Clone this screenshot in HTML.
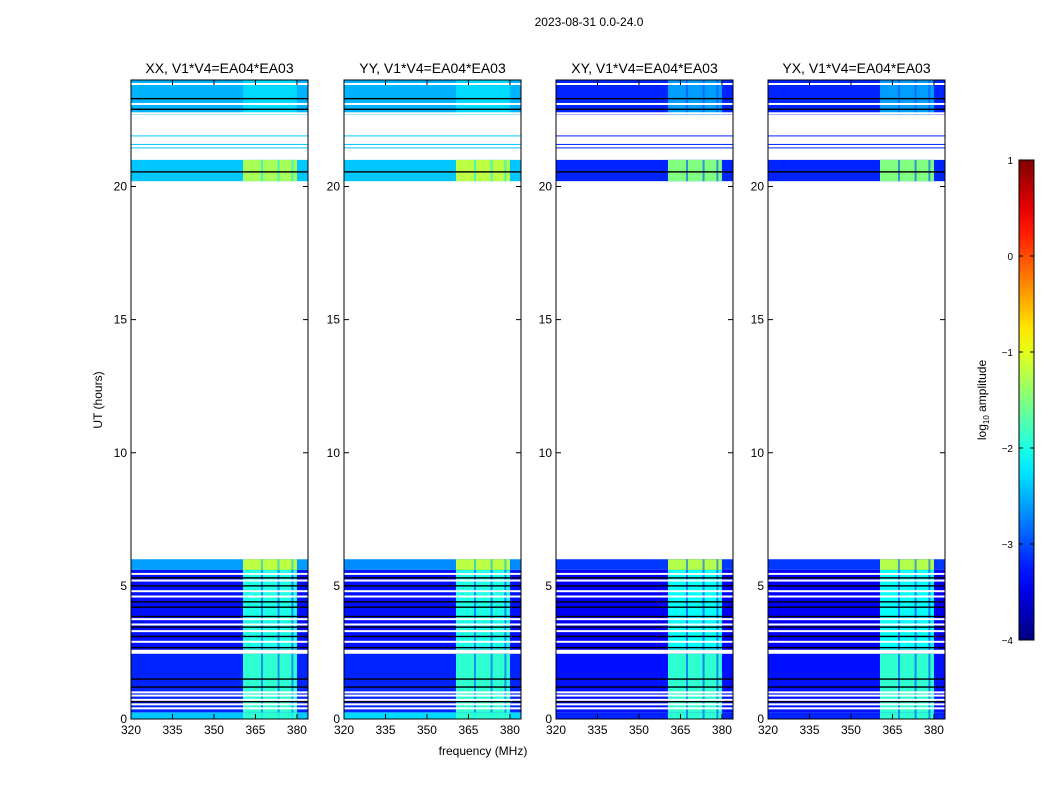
<!DOCTYPE html>
<html><head><meta charset="utf-8">
<style>
body{margin:0;background:#fff;}
svg{display:block;font-family:"Liberation Sans",sans-serif;}
</style></head>
<body>
<svg id="fig" width="1050" height="800" viewBox="0 0 1050 800">
<text x="589" y="26" font-size="12" text-anchor="middle">2023-08-31 0.0-24.0</text>
<text x="483" y="755" font-size="12" text-anchor="middle">frequency (MHz)</text>
<text transform="translate(102,400) rotate(-90)" font-size="12" text-anchor="middle">UT (hours)</text>
<g id="panels"></g>
<g id="cbar"></g>
</svg>
<script>
const panelTitles=["XX, V1*V4=EA04*EA03","YY, V1*V4=EA04*EA03","XY, V1*V4=EA04*EA03","YX, V1*V4=EA04*EA03"];
const panelX=[131,344,556,768];
const xTicks=[320,335,350,365,380];
const yTicks=[0,5,10,15,20];
const segStart=[0.0,0.25,2.6,5.6,20.2,22.7];
const segEnd=[0.25,2.45,5.6,6.0,21.0,24.0];
const bgXX=[-2.4,-3.2,-3.3,-2.6,-2.4,-2.5];
const bgYY=[-2.3,-3.2,-3.3,-2.7,-2.4,-2.5];
const bgXY=[-3.2,-3.3,-3.4,-3.1,-3.2,-3.2];
const bgYX=[-3.2,-3.3,-3.4,-3.1,-3.2,-3.2];
const bandXX=[-1.9,-1.9,-2.0,-1.2,-1.3,-2.3];
const bandYY=[-1.9,-1.9,-2.0,-1.2,-1.2,-2.3];
const bandXY=[-1.9,-1.9,-2.1,-1.25,-1.5,-2.6];
const bandYX=[-1.9,-1.9,-2.1,-1.25,-1.5,-2.6];
const whiteLines=[0.4,0.55,0.72,0.88,1.0,2.5,2.9,3.3,3.55,3.75,4.6,4.8,5.2,5.45,22.75,23.1,23.85];
const blackLines=[0.65,1.2,1.5,2.68,3.1,3.45,3.85,4.2,4.4,5.0,5.3,22.9,23.3,20.55];
const thinLines=[21.45,21.58,21.9];
const bandLines=[367,373,378];
const bgs=[bgXX,bgYY,bgXY,bgYX], bands=[bandXX,bandYY,bandXY,bandYX];

const NS="http://www.w3.org/2000/svg";
const W=177, yTop=80, yBot=719, fmin=320, fmax=384, hmax=24;
function sx(f){return (f-fmin)/(fmax-fmin)*W;}
function sy(h){return yBot-(h/hmax)*(yBot-yTop);}
function jet(v){
  let t=(v+4)/5; t=Math.max(0,Math.min(1,t));
  const c=x=>Math.round(255*Math.max(0,Math.min(1,x)));
  return `rgb(${c(1.5-Math.abs(4*t-3))},${c(1.5-Math.abs(4*t-2))},${c(1.5-Math.abs(4*t-1))})`;
}
function el(tag,attrs,parent){const e=document.createElementNS(NS,tag);for(const k in attrs)e.setAttribute(k,attrs[k]);parent.appendChild(e);return e;}
const P=document.getElementById('panels');
panelX.forEach((px,pi)=>{
  const g=el('g',{transform:`translate(${px},0)`},P);
  
  
  segStart.forEach((s,si)=>{
    const e=segEnd[si];
    const r=el('rect',{x:0,y:sy(e),width:W,height:sy(s)-sy(e),fill:jet(bgs[pi][si])},g);
    
    
    const b=el('rect',{x:sx(360.5),y:sy(e),width:sx(380)-sx(360.5),height:sy(s)-sy(e),fill:jet(bands[pi][si])},g);
    
    
    bandLines.forEach(f=>{
      const l=el('rect',{x:sx(f),y:sy(e),width:2,height:sy(s)-sy(e),fill:jet(bgs[pi][si]+0.2),opacity:0.6},g);
      
      
    });
  });
  whiteLines.forEach(h=>{const l=el('rect',{x:0,y:sy(h)-1,width:W,height:2,fill:'#fff'},g);
    });
  blackLines.forEach(h=>{const l=el('rect',{x:0,y:sy(h)-0.7,width:W,height:1.4,fill:'#000'},g);
    });
  thinLines.forEach(h=>{const l=el('rect',{x:0,y:sy(h)-0.5,width:W,height:1,fill:jet(bgs[pi][4])},g);
    });
  const fr=el('rect',{x:0,y:yTop,width:W,height:yBot-yTop,fill:'none',stroke:'#000','stroke-width':1},g);
  
  const t=el('text',{x:W/2,y:73,'font-size':14,'text-anchor':'middle'},g);t.textContent=panelTitles[pi];
  
  xTicks.forEach(f=>{
    el('line',{x1:sx(f),x2:sx(f),y1:yBot,y2:yBot-5,stroke:'#000'},g);
    el('line',{x1:sx(f),x2:sx(f),y1:yTop,y2:yTop+5,stroke:'#000'},g);
    const tx=el('text',{x:sx(f),y:yBot+15,'font-size':12,'text-anchor':'middle'},g);tx.textContent=f;
    
  });
  yTicks.forEach(h=>{
    el('line',{x1:0,x2:5,y1:sy(h),y2:sy(h),stroke:'#000'},g);
    el('line',{x1:W,x2:W-5,y1:sy(h),y2:sy(h),stroke:'#000'},g);
    const ty=el('text',{x:-4,y:sy(h)+4,'font-size':12,'text-anchor':'end'},g);ty.textContent=h;
    
  });
});
const cbTicks=[-4,-3,-2,-1,0,1];
const C=document.getElementById('cbar');
const cx=1019,cw=15,ct=160,cb=640;
const defs=el('defs',{},C);
const grad=el('linearGradient',{id:'jetg',x1:0,y1:1,x2:0,y2:0},defs);
for(let i=0;i<=20;i++){el('stop',{offset:i/20,'stop-color':jet(-4+5*i/20)},grad);}
const cr=el('rect',{x:cx,y:ct,width:cw,height:cb-ct,fill:'url(#jetg)',stroke:'#000'},C);

cbTicks.forEach(v=>{
  const y=cb-(v+4)/5*(cb-ct);
  el('line',{x1:cx,x2:cx+4,y1:y,y2:y,stroke:'#000'},C);
  el('line',{x1:cx+cw,x2:cx+cw-4,y1:y,y2:y,stroke:'#000'},C);
  const t=el('text',{x:1013,y:y+4,'font-size':10,'text-anchor':'end'},C);t.textContent=(v<0?'\u2212'+(-v):v);
  
});
const cl=el('text',{transform:'translate(986,400) rotate(-90)','font-size':12,'text-anchor':'middle'},C);
cl.innerHTML='log<tspan font-size="8" dy="3">10</tspan><tspan dy="-3"> amplitude</tspan>';

</script>
</body></html>
